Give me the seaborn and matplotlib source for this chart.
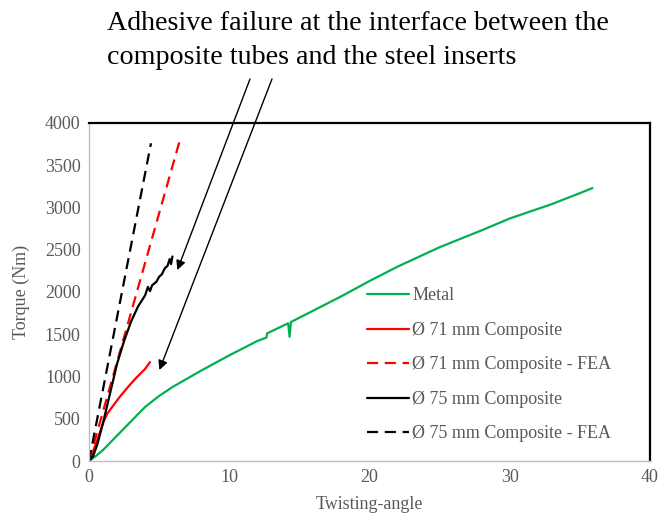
import matplotlib
matplotlib.use("Agg")
import matplotlib.pyplot as plt
import seaborn as sns
import pandas as pd

# ---- data ----
metal_x = [0, 0.5, 1, 2, 3, 4, 5, 6, 8, 10, 12, 12.65, 12.7, 14.2, 14.3, 14.4, 16, 18, 20, 22, 25, 28, 30, 33, 35, 35.9]
metal_y = [0, 60, 130, 300, 470, 640, 770, 880, 1070, 1250, 1420, 1460, 1510, 1630, 1470, 1645, 1780, 1950, 2130, 2300, 2530, 2730, 2870, 3040, 3170, 3230]

c71_x = [0, 0.3, 0.7, 1.0, 1.3, 1.7, 2.2, 2.8, 3.4, 4.0, 4.35]
c71_y = [0, 120, 300, 450, 560, 650, 760, 880, 990, 1090, 1170]

fea71_x = [0, 6.5]
fea71_y = [0, 3810]

c75_x = [0, 0.3, 0.6, 1.0, 1.5, 2.0, 2.5, 3.0, 3.5, 4.0, 4.2, 4.35, 4.5, 4.8, 5.0, 5.2, 5.4, 5.6, 5.75, 5.85, 5.95]
c75_y = [0, 60, 200, 450, 800, 1150, 1420, 1650, 1830, 1960, 2060, 2010, 2080, 2120, 2180, 2210, 2280, 2310, 2390, 2330, 2420]

fea75_x = [0, 4.42]
fea75_y = [0, 3760]

labels = ["Metal", "Ø 71 mm Composite", "Ø 71 mm Composite - FEA",
          "Ø 75 mm Composite", "Ø 75 mm Composite - FEA"]
xticks = [0, 10, 20, 30, 40]
yticks = [0, 500, 1000, 1500, 2000, 2500, 3000, 3500, 4000]
annotation = "Adhesive failure at the interface between the\ncomposite tubes and the steel inserts"
arrow_targets_x = [6.3, 5.02]
arrow_targets_y = [2260, 1077]

sns.set_theme(style="white")
plt.rcParams['font.family'] = ['Liberation Serif', 'DejaVu Serif']

fig = plt.figure(figsize=(6.59, 5.19), dpi=100)
ax = fig.add_axes([89/659, 1 - 461/519, (650 - 89)/659, (461 - 123)/519])

series = [
    (metal_x, metal_y, labels[0], "#00b050", "-"),
    (c71_x, c71_y, labels[1], "#ff0000", "-"),
    (fea71_x, fea71_y, labels[2], "#ff0000", "--"),
    (c75_x, c75_y, labels[3], "#000000", "-"),
    (fea75_x, fea75_y, labels[4], "#000000", "--"),
]
for xs, ys, lab, col, ls in series:
    df = pd.DataFrame({"x": xs, "y": ys})
    sns.lineplot(data=df, x="x", y="y", ax=ax, color=col, linestyle=ls,
                 linewidth=1.6, label=lab, sort=False, estimator=None)
for l in ax.get_lines():
    if l.get_linestyle() == "--":
        l.set_dashes((5, 3))

ax.set_xlim(0, 40)
ax.set_ylim(0, 4000)
ax.set_xticks(xticks)
ax.set_yticks(yticks)
ax.tick_params(axis="both", labelsize=13, labelcolor="#595959", length=0, pad=6)
ax.set_xlabel("Twisting-angle", fontsize=13, color="#595959", labelpad=7)
ax.set_ylabel("Torque (Nm)", fontsize=13, color="#595959", labelpad=11)
ax.grid(False)

for side in ["left", "bottom"]:
    ax.spines[side].set_color("#bfbfbf")
    ax.spines[side].set_linewidth(1.0)
for side in ["top", "right"]:
    ax.spines[side].set_color("#000000")
    ax.spines[side].set_linewidth(1.6)

leg = ax.legend(loc="upper left", bbox_to_anchor=(0.483, 0.535), frameon=False,
                fontsize=13, handlelength=2.3, handletextpad=0.2,
                labelspacing=0.97, borderaxespad=0)
for t in leg.get_texts():
    t.set_color("#595959")

fig.text(107/659, 1 - 11/519, annotation, fontsize=20.2, color="black",
         ha="left", va="top", linespacing=1.5)

starts = [(250, 519 - 79), (272, 519 - 79)]
for (sx, sy), tx, ty in zip(starts, arrow_targets_x, arrow_targets_y):
    ax.annotate("", xy=(tx, ty), xycoords="data",
                xytext=(sx, sy), textcoords="figure pixels",
                arrowprops=dict(arrowstyle="-|>", color="black", lw=1.0,
                                mutation_scale=14, shrinkA=0, shrinkB=0),
                annotation_clip=False)

fig.savefig("out.png", dpi=100)
